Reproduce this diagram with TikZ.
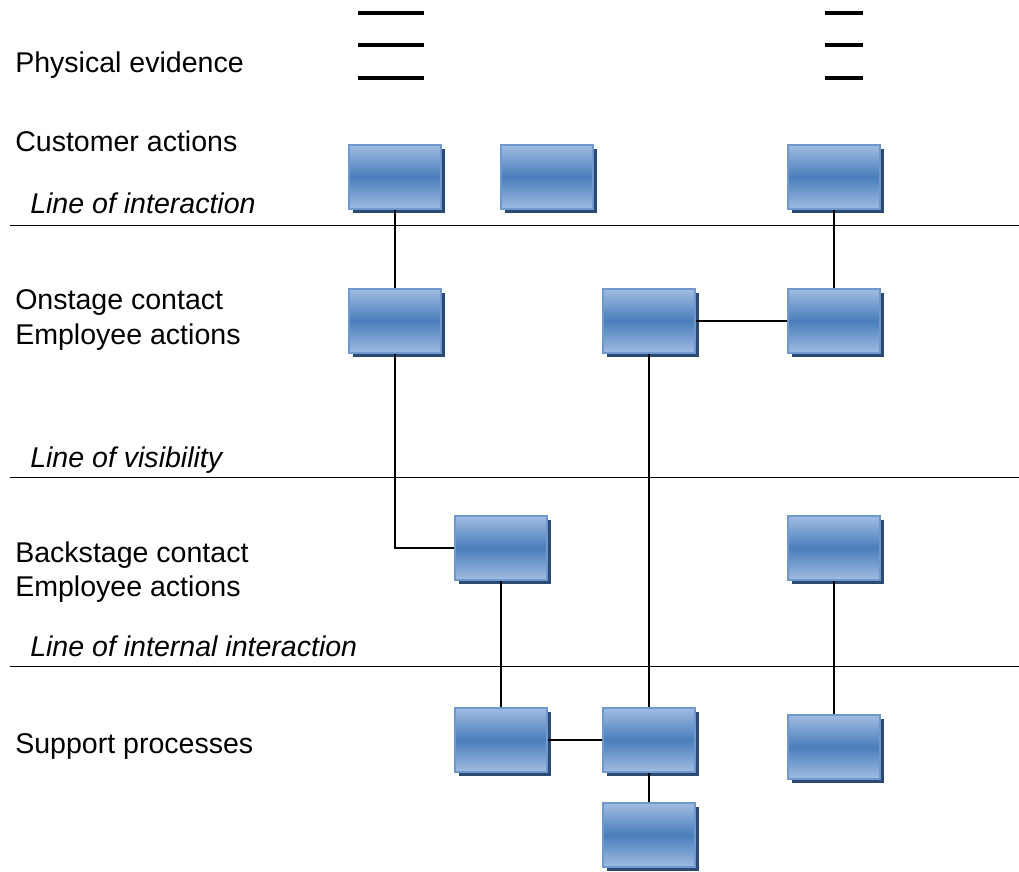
\documentclass[tikz,border=0pt]{standalone}
\usepackage{fontspec}
\setmainfont{Liberation Sans}
\usetikzlibrary{shadows}

\definecolor{boxlight}{HTML}{A0BCE2}
\definecolor{boxmid}{HTML}{4A7EBB}
\definecolor{boxedge}{HTML}{7198CC}
\definecolor{boxshade}{HTML}{2A4A72}

\tikzset{
  actbox/.style={rectangle, draw=boxedge, line width=0.8pt, minimum width=2.3cm, minimum height=1.6cm, inner sep=0pt,
    top color=boxlight, bottom color=boxlight, middle color=boxmid,
    drop shadow={opacity=1, fill=boxshade, shadow xshift=0.09cm, shadow yshift=-0.11cm}},
  rowlabel/.style={font=\fontsize{20.3}{24.2}\selectfont, inner sep=0pt, align=left},
  linelabel/.style={font=\fontsize{20.3}{24.2}\selectfont\itshape, inner sep=0pt}
}

\begin{document}
\begin{tikzpicture}[x=0.025cm, y=-0.025cm]
            \useasboundingbox (0,0) rectangle (1019,872);

            \node[rowlabel, anchor=base west] (phys) at (15,73) {Physical evidence};
            \node[rowlabel, anchor=base west] (cust) at (15,152) {Customer actions};
            \node[linelabel, anchor=base west] (loi) at (30,214) {Line of interaction};
            \node[rowlabel, anchor=west] (onst) at (15,320) {Onstage contact\\Employee actions};
            \node[linelabel, anchor=base west] (lov) at (30,467) {Line of visibility};
            \node[rowlabel, anchor=west] (back) at (15,572) {Backstage contact\\Employee actions};
            \node[linelabel, anchor=base west] (lii) at (30,656) {Line of internal interaction};
            \node[rowlabel, anchor=base west] (supp) at (15,753) {Support processes};

            \foreach \y in {13, 45, 78} {
                \draw[line width=2.2pt] (358,\y)--(424,\y) (825,\y)--(863,\y);
            }

            \draw[line width=0.7pt] (10,225)--(1019,225) (10,477)--(1019,477) (10,666)--(1019,666);

            \foreach \n\x\y in {A1/395/177, A2/547/177, A3/834/177, B1/395/321, B2/649/321, B3/834/321,
                                C1/501/548, C3/834/548, D1/501/740, D2/649/740, D3/834/747, D4/649/835} {
                \node[actbox] (\n) at (\x,\y) {};
            }

            \draw[line width=0.9pt] (A1)--(B1);
            \draw[line width=0.9pt] (B1.south) |- (C1.west);
            \draw[line width=0.9pt] (A3)--(B3);
            \draw[line width=0.9pt] (B2)--(B3);
            \draw[line width=0.9pt] (B2)--(D2);
            \draw[line width=0.9pt] (C1)--(D1);
            \draw[line width=0.9pt] (C3)--(D3);
            \draw[line width=0.9pt] (D1)--(D2);
            \draw[line width=0.9pt] (D2)--(D4);
        \end{tikzpicture}
\end{document}
